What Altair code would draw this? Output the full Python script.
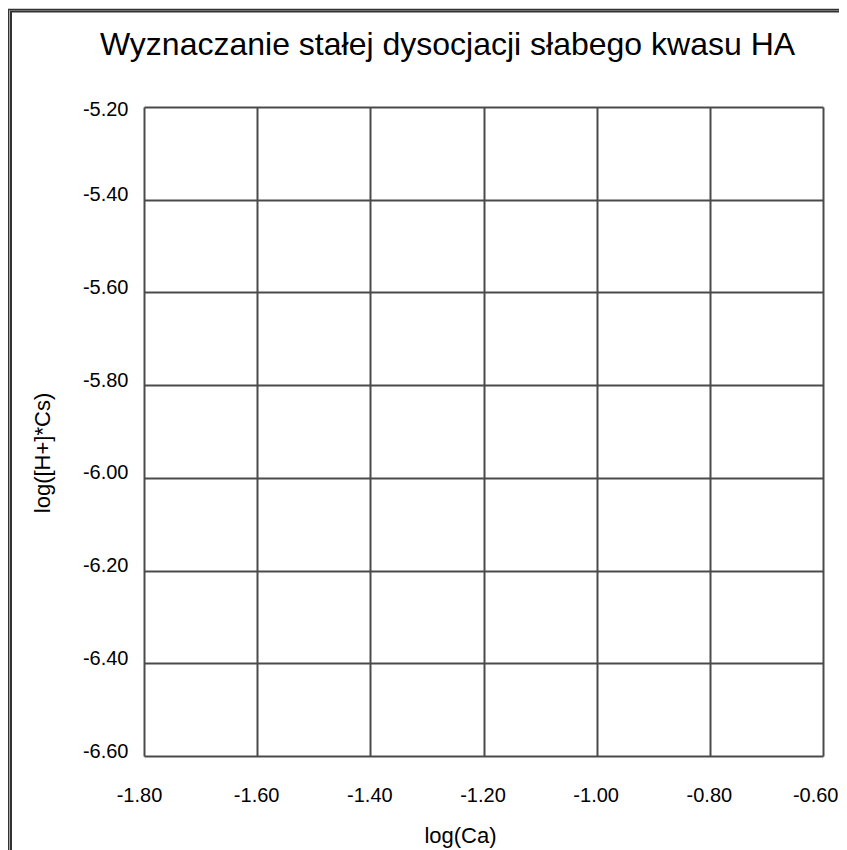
import altair as alt
import pandas as pd

title_text = "Wyznaczanie stałej dysocjacji słabego kwasu HA"
x_title = "log(Ca)"
y_title = "log([H+]*Cs)"
x_domain = [-1.8, -0.6]
y_domain = [-6.6, -5.2]
x_ticks = [-1.8, -1.6, -1.4, -1.2, -1.0, -0.8, -0.6]
y_ticks = [-6.6, -6.4, -6.2, -6.0, -5.8, -5.6, -5.4, -5.2]

FONT = "Liberation Sans"
GRID = "#4a4a4a"

df = pd.DataFrame({"x": x_domain, "y": y_domain})

base = alt.Chart(df).mark_point(opacity=0).encode(
    x=alt.X("x:Q", scale=alt.Scale(domain=x_domain, nice=False, zero=False),
            axis=alt.Axis(values=x_ticks, title=x_title, grid=True, gridColor=GRID, gridWidth=2,
                          domain=False, ticks=False, tickSize=0,
                          labelExpr="'-' + format(abs(datum.value), '.2f')",
                          labelFont=FONT, labelFontSize=20, labelColor="black",
                          labelPadding=39, labelBaseline="middle", labelFlush=False, labelOverlap=False,
                          labelAlign={"condition": {"test": "datum.value > -0.65", "value": "right"}, "value": "center"},
                          labelOffset={"condition": [{"test": "datum.value < -1.75", "value": -5},
                                                     {"test": "datum.value > -0.65", "value": 15}], "value": -1},
                          titleFont=FONT, titleFontSize=22, titleFontWeight="normal", titleColor="black",
                          titleX=316, titleY=79, titleBaseline="middle", titleAlign="center")),
    y=alt.Y("y:Q", scale=alt.Scale(domain=y_domain, nice=False, zero=False),
            axis=alt.Axis(values=y_ticks, title=y_title, grid=True, gridColor=GRID, gridWidth=2,
                          domain=False, ticks=False, tickSize=0,
                          labelExpr="'-' + format(abs(datum.value), '.2f')",
                          labelFont=FONT, labelFontSize=20, labelColor="black",
                          labelPadding=16, labelBaseline="middle", labelAlign="right",
                          labelFlush=False, labelOverlap=False,
                          labelOffset={"condition": {"test": "datum.value > -5.25", "value": 2}, "value": -5},
                          titleFont=FONT, titleFontSize=22, titleFontWeight="normal", titleColor="black",
                          titleX=-101.5, titleY=345.5, titleBaseline="middle", titleAlign="center",
                          titleAngle=270)),
)

border_df = pd.DataFrame({"k": [0]})
outer = alt.Chart(border_df).mark_rect(filled=False, stroke="#333333", strokeWidth=1.5).encode(
    x=alt.value(-135.25), x2=alt.value(900), y=alt.value(-97.5), y2=alt.value(900))
mid = alt.Chart(border_df).mark_rect(filled=False, stroke="#b0b0b0", strokeWidth=1).encode(
    x=alt.value(-134), x2=alt.value(900), y=alt.value(-96.5), y2=alt.value(900))
inner = alt.Chart(border_df).mark_rect(filled=False, stroke="#333333", strokeWidth=2).encode(
    x=alt.value(-133), x2=alt.value(900), y=alt.value(-95.5), y2=alt.value(900))

chart = alt.layer(base, outer, mid, inner).properties(
    width=679, height=649,
    autosize=alt.AutoSizeParams(type="none"),
    padding={"left": 136, "top": 99, "right": 16, "bottom": 94},
    title=alt.TitleParams(text=title_text, font=FONT, fontSize=32, fontWeight="normal", color="black",
                          anchor="middle", frame="group", dx=-36, offset=-78, baseline="alphabetic"),
).configure_view(stroke=GRID, strokeWidth=2).configure(background="white")

chart.save("out.html", embed_options={"renderer": "svg", "actions": False})
